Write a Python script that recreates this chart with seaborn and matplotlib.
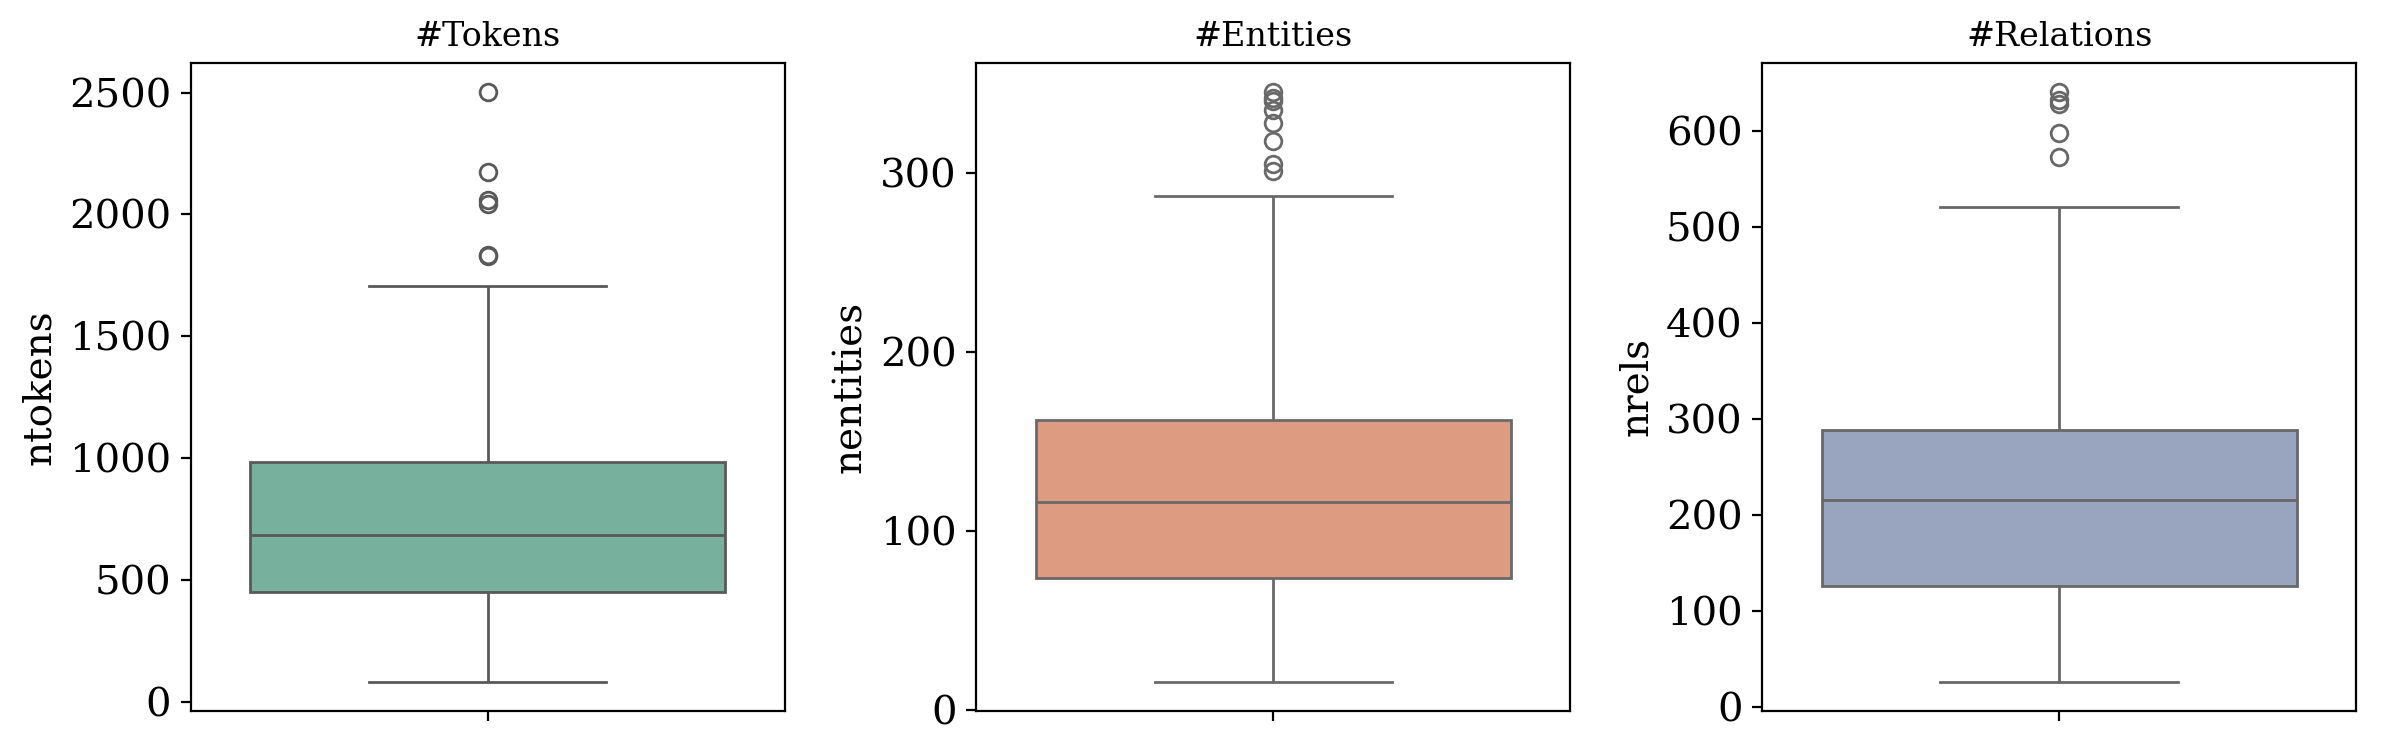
import pandas as pd
import matplotlib
matplotlib.use("Agg")
import matplotlib.pyplot as plt
from matplotlib.ticker import MultipleLocator
import seaborn as sns

# per-document counts
ntokens = [82, 150, 210, 260, 300, 335, 365, 390, 410, 430,
           448, 470, 500, 530, 555, 580, 605, 630, 650, 668,
           684, 710, 740, 770, 800, 830, 860, 895, 925, 955,
           983, 1100, 1250, 1450, 1706, 1828, 1832, 2044, 2058, 2176, 2502]
nentities = [16, 28, 36, 43, 49, 54, 59, 64, 68, 71,
             74, 78, 83, 88, 92, 97, 101, 105, 109, 113,
             116, 121, 126, 131, 136, 141, 146, 151, 155, 159,
             162, 220, 287, 301, 305, 318, 328, 335, 340, 342, 345]
nrels = [26, 45, 60, 72, 83, 92, 100, 108, 114, 120,
         126, 135, 145, 155, 165, 175, 184, 193, 201, 208,
         215, 222, 229, 237, 245, 253, 261, 269, 276, 282,
         288, 330, 380, 430, 475, 520, 572, 597, 628, 632, 640]

columns = ["ntokens", "nentities", "nrels"]
titles = ["#Tokens", "#Entities", "#Relations"]
ysteps = [500, 100, 100]

df = pd.DataFrame({"ntokens": ntokens, "nentities": nentities, "nrels": nrels})

plt.rcParams['font.family'] = ['DejaVu Serif']

colors = sns.color_palette("Set2", 3)

fig, axes = plt.subplots(1, 3, figsize=(11.96, 3.745), dpi=200)
plt.subplots_adjust(left=0.0797, right=0.985, bottom=0.0507, top=0.9163, wspace=0.323)

for ax, col, title, c, step in zip(axes, columns, titles, colors, ysteps):
    sns.boxplot(data=df, y=col, ax=ax, color=c, saturation=0.6)
    ax.set_title(title, fontsize=12)
    ax.set_ylabel(col, fontsize=14)
    ax.yaxis.set_major_locator(MultipleLocator(step))
    ax.tick_params(axis='both', labelsize=14.5)

fig.savefig("out.png", dpi=200)
